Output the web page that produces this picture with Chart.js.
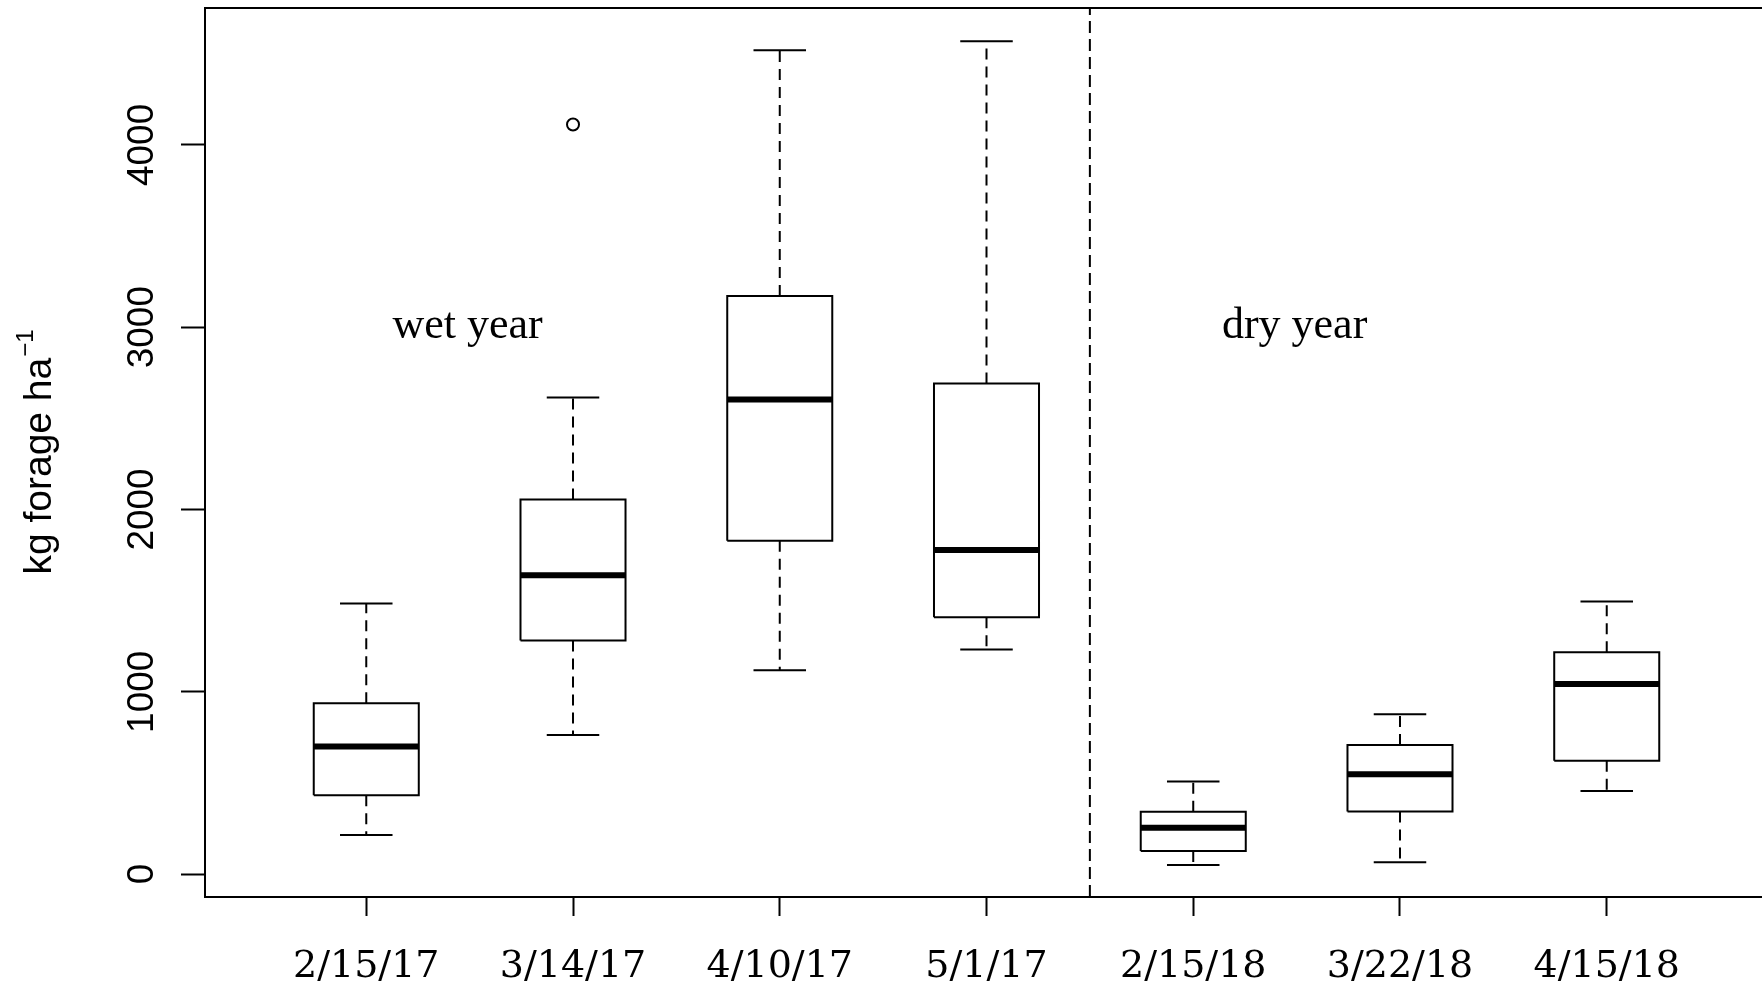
<!DOCTYPE html>
<html>
<head>
<meta charset="utf-8">
<title>Forage boxplot</title>
<script src="https://cdn.jsdelivr.net/npm/chart.js@4/dist/chart.umd.min.js"></script>
<style>
  html, body { margin: 0; padding: 0; background: #fff; overflow: hidden; }
  #wrap { width: 1776px; height: 988px; }
</style>
</head>
<body>
<div id="wrap"><canvas id="boxChart" width="1776" height="988"></canvas></div>
<script>
// sampling dates and their x positions
const categories = ['2/15/17', '3/14/17', '4/10/17', '5/1/17', '2/15/18', '3/22/18', '4/15/18'];
const positions = [1, 2, 3, 4, 5, 6, 7];

// box statistics, kg forage per ha
const whiskerLow  = [214, 763, 1118, 1232, 50, 64, 456];
const quartile1   = [432, 1281, 1829, 1409, 126, 343, 621];
const medians     = [699, 1639, 2603, 1778, 254, 547, 1042];
const quartile3   = [937, 2055, 3171, 2691, 341, 708, 1216];
const whiskerHigh = [1484, 2614, 4519, 4569, 508, 876, 1495];

const outlierPos = [2];
const outlierVal = [4112];

const yTicks = [0, 1000, 2000, 3000, 4000];

const periodLabels = ['wet year', 'dry year'];
const periodX = [1.5, 5.5];
const periodY = [3000, 3000];
const separatorX = 4.5;

const Y_MIN = -126, Y_MAX = 4751;
const X_MIN = 0.22, X_MAX = 7.78;
const BOX_HALF = 0.254;
const CAP_HALF = 0.127;

// build the line segments from the stats (null = pen up)
const gap = x => ({ x: x, y: null });
const whiskerData = [], capData = [], boxData = [], medianData = [];
positions.forEach((x, i) => {
    whiskerData.push({ x: x, y: quartile3[i] }, { x: x, y: whiskerHigh[i] }, gap(x),
                     { x: x, y: quartile1[i] }, { x: x, y: whiskerLow[i] }, gap(x));
    capData.push({ x: x - CAP_HALF, y: whiskerHigh[i] }, { x: x + CAP_HALF, y: whiskerHigh[i] }, gap(x),
                 { x: x - CAP_HALF, y: whiskerLow[i] }, { x: x + CAP_HALF, y: whiskerLow[i] }, gap(x));
    boxData.push({ x: x - BOX_HALF, y: quartile1[i] }, { x: x + BOX_HALF, y: quartile1[i] },
                 { x: x + BOX_HALF, y: quartile3[i] }, { x: x - BOX_HALF, y: quartile3[i] },
                 { x: x - BOX_HALF, y: quartile1[i] }, gap(x));
    medianData.push({ x: x - BOX_HALF, y: medians[i] }, { x: x + BOX_HALF, y: medians[i] }, gap(x));
});
const outlierData = outlierPos.map((x, i) => ({ x: x, y: outlierVal[i] }));
const separatorData = [{ x: separatorX, y: Y_MIN }, { x: separatorX, y: Y_MAX }];

const lineBase = { borderColor: '#000', pointRadius: 0, tension: 0, fill: false, spanGaps: false };

// frame, rotated y labels, y title and in-plot notes
const extras = {
    id: 'extras',
    afterDraw(chart) {
        const ctx = chart.ctx;
        const a = chart.chartArea;
        const ys = chart.scales.y, xs = chart.scales.x;
        ctx.save();
        ctx.strokeStyle = '#000';
        ctx.lineWidth = 2;
        ctx.strokeRect(a.left, a.top, a.right - a.left, a.bottom - a.top);

        ctx.fillStyle = '#000';
        ctx.font = '37px "Liberation Sans", Arial, sans-serif';
        ctx.textAlign = 'center';
        ctx.textBaseline = 'alphabetic';
        yTicks.forEach(v => {
            ctx.save();
            ctx.translate(153, ys.getPixelForValue(v));
            ctx.rotate(-Math.PI / 2);
            ctx.fillText(String(v), 0, 0);
            ctx.restore();
        });

        // kg forage ha^-1
        const mainFont = '39px "Liberation Sans", Arial, sans-serif';
        const supFont = '24px "Liberation Sans", Arial, sans-serif';
        ctx.font = mainFont;
        const w1 = ctx.measureText('kg forage ha').width;
        ctx.font = supFont;
        const w2 = ctx.measureText('\u22121').width;
        ctx.save();
        ctx.translate(51, (a.top + a.bottom) / 2);
        ctx.rotate(-Math.PI / 2);
        ctx.textAlign = 'left';
        ctx.font = mainFont;
        ctx.fillText('kg forage ha', -(w1 + w2) / 2, 0);
        ctx.font = supFont;
        ctx.fillText('\u22121', -(w1 + w2) / 2 + w1 + 1, -18);
        ctx.restore();

        ctx.font = '44px "Liberation Serif", "Times New Roman", serif';
        ctx.textAlign = 'center';
        periodLabels.forEach((t, i) => {
            ctx.fillText(t, xs.getPixelForValue(periodX[i]) - 2, ys.getPixelForValue(periodY[i]) + 11);
        });
        ctx.restore();
    }
};

new Chart(document.getElementById('boxChart'), {
    type: 'line',
    data: {
        datasets: [
            { ...lineBase, label: 'whiskers', data: whiskerData, borderWidth: 2, borderDash: [11, 7] },
            { ...lineBase, label: 'caps', data: capData, borderWidth: 2 },
            { ...lineBase, label: 'boxes', data: boxData, borderWidth: 2, borderJoinStyle: 'miter' },
            { ...lineBase, label: 'medians', data: medianData, borderWidth: 6, borderCapStyle: 'butt' },
            { ...lineBase, label: 'season split', data: separatorData, borderWidth: 2, borderDash: [12, 6] },
            {
                label: 'outliers', data: outlierData, showLine: false,
                pointRadius: 6, pointStyle: 'circle', pointBorderWidth: 2,
                pointBorderColor: '#000', pointBackgroundColor: '#fff', borderColor: '#000'
            }
        ]
    },
    options: {
        responsive: false,
        animation: false,
        events: [],
        layout: { padding: { top: 7, right: 1, left: 0, bottom: 0 } },
        plugins: {
            legend: { display: false },
            tooltip: { enabled: false }
        },
        scales: {
            x: {
                type: 'linear',
                min: X_MIN,
                max: X_MAX,
                afterBuildTicks: s => { s.ticks = positions.map(v => ({ value: v })); },
                afterFit: s => { s.height = 91; },
                border: { display: true, color: '#000', width: 2 },
                grid: { drawOnChartArea: false, drawTicks: true, tickLength: 19, tickWidth: 2, tickColor: '#000' },
                ticks: {
                    autoSkip: false,
                    maxRotation: 0,
                    padding: 28,
                    color: '#000',
                    font: { family: '"DejaVu Serif", serif', size: 38, lineHeight: 1.2 },
                    callback: (v, i) => categories[i]
                }
            },
            y: {
                type: 'linear',
                min: Y_MIN,
                max: Y_MAX,
                afterBuildTicks: s => { s.ticks = yTicks.map(v => ({ value: v })); },
                afterFit: s => { s.width = 205; },
                border: { display: true, color: '#000', width: 2 },
                grid: { drawOnChartArea: false, drawTicks: true, tickLength: 24, tickWidth: 2, tickColor: '#000' },
                ticks: { display: false }
            }
        }
    },
    plugins: [extras]
});
</script>
</body>
</html>
